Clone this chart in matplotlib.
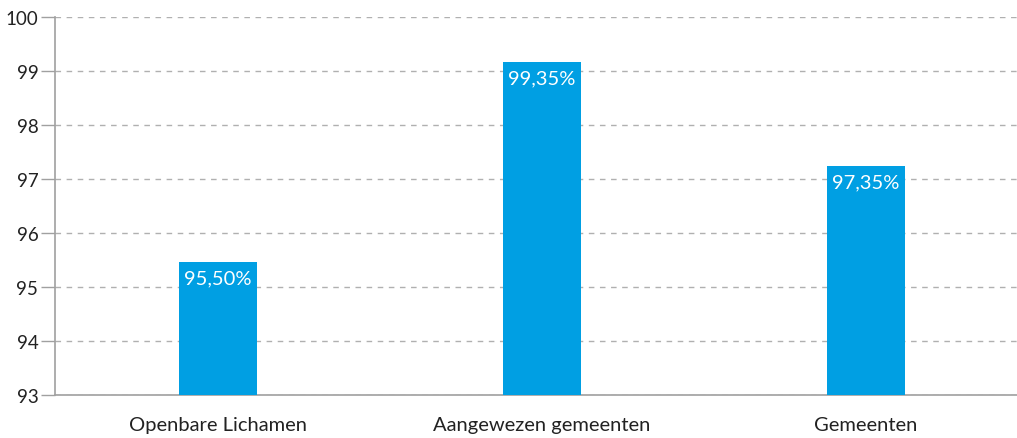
import matplotlib.pyplot as plt

categories = ["Openbare Lichamen", "Aangewezen gemeenten", "Gemeenten"]
values = [95.46, 99.17, 97.24]
value_labels = ["95,50%", "99,35%", "97,35%"]
yticks = [93, 94, 95, 96, 97, 98, 99, 100]

plt.rcParams["font.family"] = ["Lato", "DejaVu Sans"]

fig = plt.figure(figsize=(10.17, 4.39), dpi=100)
ax = fig.add_axes([55 / 1017, 43 / 439, (1017 - 55) / 1017, (396 - 18) / 439])

x = range(len(categories))
bars = ax.bar(x, [v - 93 for v in values], bottom=93, width=0.238, color="#009fe3", zorder=3)

for b, lab in zip(bars, value_labels):
    ax.text(b.get_x() + b.get_width() / 2, b.get_y() + b.get_height() - 0.14, lab,
            ha="center", va="top", color="white", fontsize=14.5, zorder=4)

ax.set_ylim(93, 100)
ax.set_xlim(-0.503, 2.466)
ax.set_yticks(yticks)
ax.set_xticks(list(x))
ax.set_xticklabels(categories)
ax.tick_params(axis="y", length=10, width=1, color="#a0a0a0", labelsize=13.5, labelcolor="#222222", pad=2)
ax.tick_params(axis="x", length=0, labelsize=14.5, labelcolor="#222222", pad=15)
ax.yaxis.grid(True, linestyle=(0, (4, 4)), color="#b0b0b0", linewidth=1, zorder=0)
for s in ["top", "right"]:
    ax.spines[s].set_visible(False)
for s in ["left", "bottom"]:
    ax.spines[s].set_color("#a0a0a0")
    ax.spines[s].set_linewidth(1.2)

fig.savefig("out.png", dpi=100)
